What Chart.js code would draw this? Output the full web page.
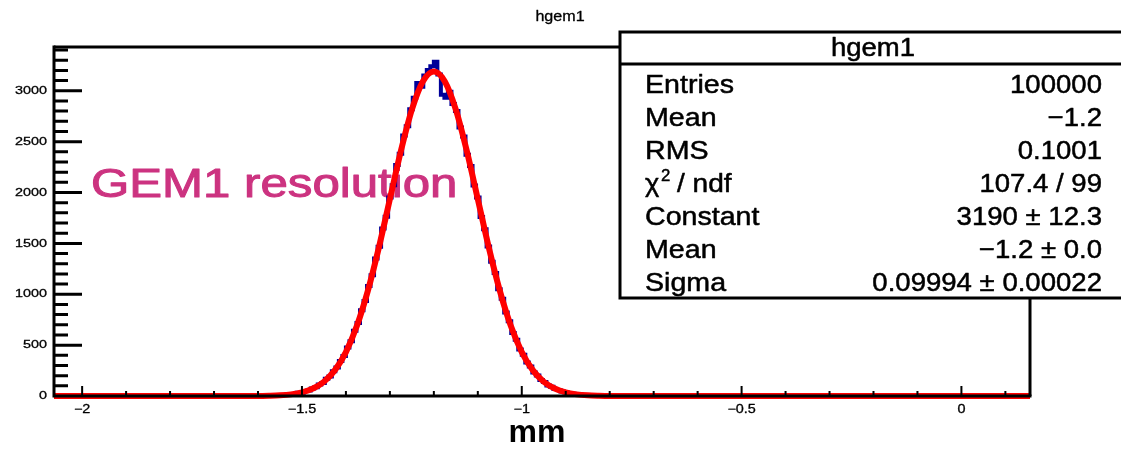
<!DOCTYPE html>
<html>
<head>
<meta charset="utf-8">
<script src="https://cdn.jsdelivr.net/npm/chart.js@4.4.0/dist/chart.umd.min.js"></script>
<style>
  html, body { margin: 0; padding: 0; background: #fff; }
  canvas { display: block; }
</style>
</head>
<body>
<canvas id="chartHgem" width="1121" height="450"></canvas>
<script>
// === DATA ===
const xMin = -2.064;
const xMax = 0.156;
const yMax = 3430;
const binWidth = 0.008;
const firstBinCenter = -1.62;

// bin contents from x = -1.62 to -0.78 (106 bins of 0.008 mm)
const binCounts = [
  0, 1, 0, 2, 1, 3, 2, 5, 5, 8, 9, 15, 16, 20, 31, 33, 48, 55, 74, 85,
  112, 128, 170, 191, 244, 279, 345, 392, 476, 538, 642, 718, 842, 933, 1080, 1186, 1352, 1468, 1645, 1762,
  1951, 2071, 2270, 2381, 2560, 2652, 2818, 2930, 3075, 3040, 3150, 3205, 3240,
  3285, 3160, 2960, 2930, 2990, 2870, 2800, 2640, 2550, 2370, 2260, 2070, 1950, 1760, 1640, 1470, 1320,
  1210, 1050, 955, 820, 735, 620, 552, 458, 405, 330, 290, 230, 202, 158, 137, 104, 90, 68, 59, 43,
  37, 26, 23, 15, 14, 9, 8, 5, 4, 3, 2, 1, 1, 1, 0, 0
];

// gaussian fit curve, sampled along x
const fitX = [-2.064, -1.65, -1.625, -1.6, -1.575, -1.55, -1.525, -1.5, -1.475, -1.45, -1.425, -1.4,
  -1.375, -1.35, -1.325, -1.3, -1.275, -1.25, -1.225, -1.2, -1.175, -1.15, -1.125, -1.1, -1.075, -1.05,
  -1.025, -1.0, -0.975, -0.95, -0.925, -0.9, -0.875, -0.85, -0.825, -0.8, -0.775, -0.75, 0.156];
const fitY = [0, 0.5, 1, 1, 3, 7, 16, 35, 73, 140, 254, 432,
  690, 1036, 1460, 1935, 2408, 2815, 3092, 3190, 3092, 2815, 2408, 1935, 1460, 1036,
  690, 432, 254, 140, 73, 35, 16, 7, 3, 1, 1, 0.5, 0];

const xMajorTicks = [-2, -1.5, -1, -0.5, 0];
const xMinorTicks = [-2, -1.9, -1.8, -1.7, -1.6, -1.5, -1.4, -1.3, -1.2, -1.1, -1, -0.9, -0.8, -0.7, -0.6, -0.5, -0.4, -0.3, -0.2, -0.1, 0, 0.1];
const xTickLabels = ['\u22122', '\u22121.5', '\u22121', '\u22120.5', '0'];
const yMajorTicks = [0, 500, 1000, 1500, 2000, 2500, 3000];
const yTickLabels = ['0', '500', '1000', '1500', '2000', '2500', '3000'];

const chartTitle = 'hgem1';
const xTitle = 'mm';
const noteText = 'GEM1 resolution';
const statLabels = ['Entries', 'Mean', 'RMS', 'chi2', 'Constant', 'Mean', 'Sigma'];
const statValues = ['100000', '\u22121.2', '0.1001', '107.4 / 99', '3190 \u00b1 12.3', '\u22121.2 \u00b1 0.0', '0.09994 \u00b1 0.00022'];

// build the histogram points (bin centres) with zero padding at both ends
const histPoints = [{ x: xMin, y: 0 }];
binCounts.forEach((c, i) => histPoints.push({ x: firstBinCenter + i * binWidth, y: c }));
histPoints.push({ x: xMax, y: 0 });
const fitPoints = fitX.map((x, i) => ({ x: x, y: fitY[i] }));

const FONT = '"Liberation Sans", Arial, Helvetica, sans-serif';

// draws text stretched horizontally (the reference is a bit wide); 'heavy' thickens strokes a little
function txt(ctx, str, x, y, size, align, opts) {
  opts = opts || {};
  ctx.save();
  ctx.font = (opts.bold ? 'bold ' : '') + size + 'px ' + FONT;
  ctx.fillStyle = opts.color || '#000';
  ctx.strokeStyle = opts.color || '#000';
  ctx.textBaseline = opts.baseline || 'alphabetic';
  ctx.textAlign = align;
  ctx.translate(x, y);
  ctx.scale(opts.sx || 1, 1);
  ctx.fillText(str, 0, 0);
  if (opts.heavy) {
    ctx.lineWidth = opts.heavy;
    ctx.lineJoin = 'round';
    ctx.strokeText(str, 0, 0);
  }
  ctx.restore();
}

const rootFrame = {
  id: 'rootFrame',
  beforeDatasetsDraw(chart) {
    const ctx = chart.ctx;
    txt(ctx, noteText, 91, 197, 41, 'left', { color: '#cc3380', sx: 1.2, heavy: 1.0 });
  },
  afterDatasetsDraw(chart) {
    const ctx = chart.ctx;
    const a = chart.chartArea;
    const xs = chart.scales.x, ys = chart.scales.y;

    ctx.save();
    ctx.strokeStyle = '#000';
    ctx.lineCap = 'butt';

    // frame
    ctx.lineWidth = 3;
    ctx.beginPath();
    ctx.moveTo(a.left, a.top); ctx.lineTo(a.right, a.top);
    ctx.moveTo(a.right, a.top); ctx.lineTo(a.right, a.bottom);
    ctx.stroke();

    // y axis ticks (pointing inwards)
    ctx.lineWidth = 3;
    ctx.beginPath();
    for (let v = 100; v <= yMax; v += 100) {
      const y = ys.getPixelForValue(v);
      const len = (v % 500 === 0) ? 28 : 14;
      ctx.moveTo(a.left, y); ctx.lineTo(a.left + len, y);
    }
    ctx.stroke();

    // x axis ticks (pointing up)
    ctx.lineWidth = 2;
    ctx.beginPath();
    xMinorTicks.forEach(v => {
      const x = xs.getPixelForValue(v);
      const major = xMajorTicks.some(m => Math.abs(m - v) < 1e-9);
      ctx.moveTo(x, a.bottom); ctx.lineTo(x, a.bottom - (major ? 10 : 5));
    });
    ctx.stroke();

    // axis lines
    ctx.lineWidth = 3;
    ctx.beginPath();
    ctx.moveTo(a.left, a.top - 1.5); ctx.lineTo(a.left, a.bottom + 1.5);
    ctx.moveTo(a.left, a.bottom); ctx.lineTo(a.right + 1.5, a.bottom);
    ctx.stroke();
    ctx.restore();

    // tick labels
    yMajorTicks.forEach((v, i) => {
      txt(ctx, yTickLabels[i], 47, ys.getPixelForValue(v), 11.5, 'right', { baseline: 'middle', sx: 1.25, heavy: 0.3 });
    });
    xMajorTicks.forEach((v, i) => {
      txt(ctx, xTickLabels[i], xs.getPixelForValue(v), 413, 12, 'center', { sx: 1.2, heavy: 0.3 });
    });

    // titles
    txt(ctx, chartTitle, 560, 21, 14, 'center', { sx: 1.15, heavy: 0.3 });
    txt(ctx, xTitle, 537, 442, 32, 'center', { bold: true });

    // stats box
    const bx = 620, by = 32, bw = 520, bh = 266, hdr = 32;
    ctx.save();
    ctx.fillStyle = '#fff';
    ctx.fillRect(bx, by, bw, bh);
    ctx.strokeStyle = '#000';
    ctx.lineWidth = 3;
    ctx.strokeRect(bx, by, bw, bh);
    ctx.beginPath();
    ctx.moveTo(bx, by + hdr); ctx.lineTo(bx + bw, by + hdr);
    ctx.stroke();
    ctx.restore();

    txt(ctx, chartTitle, 873, 56, 25, 'center', { sx: 1.1, heavy: 0.5 });
    statLabels.forEach((lab, i) => {
      const y = 93 + i * 33;
      if (lab === 'chi2') {
        txt(ctx, '\u03c7', 645, y, 26, 'left', { sx: 1.05, heavy: 0.5 });
        txt(ctx, '2', 661, y - 11, 16, 'left', { sx: 1.05, heavy: 0.4 });
        txt(ctx, '/ ndf', 677, y, 26, 'left', { sx: 1.08, heavy: 0.5 });
      } else {
        txt(ctx, lab, 645, y, 26, 'left', { sx: 1.1, heavy: 0.5 });
      }
      txt(ctx, statValues[i], 1102, y, 26, 'right', { sx: 1.06, heavy: 0.5 });
    });
  }
};

const ctxH = document.getElementById('chartHgem').getContext('2d');
const chartHgem = new Chart(ctxH, {
  type: 'line',
  data: {
    datasets: [
      {
        label: 'hgem1',
        data: histPoints,
        stepped: 'middle',
        borderColor: '#000099',
        borderWidth: 4,
        pointRadius: 0,
        fill: false,
        clip: 4,
        order: 2
      },
      {
        label: 'gaus',
        data: fitPoints,
        borderColor: '#ff0000',
        borderWidth: 6,
        pointRadius: 0,
        cubicInterpolationMode: 'monotone',
        fill: false,
        clip: 6,
        order: 1
      }
    ]
  },
  options: {
    responsive: false,
    animation: false,
    devicePixelRatio: 1,
    layout: { padding: { top: 47, right: 91, left: 0, bottom: 0 } },
    plugins: { legend: { display: false }, tooltip: { enabled: false }, title: { display: false } },
    scales: {
      x: {
        type: 'linear', min: xMin, max: xMax,
        grid: { display: false }, border: { display: false },
        ticks: { display: false },
        afterFit: s => { s.height = 54; }
      },
      y: {
        type: 'linear', min: 0, max: yMax,
        grid: { display: false }, border: { display: false },
        ticks: { display: false },
        afterFit: s => { s.width = 54; }
      }
    }
  },
  plugins: [rootFrame]
});
</script>
</body>
</html>
